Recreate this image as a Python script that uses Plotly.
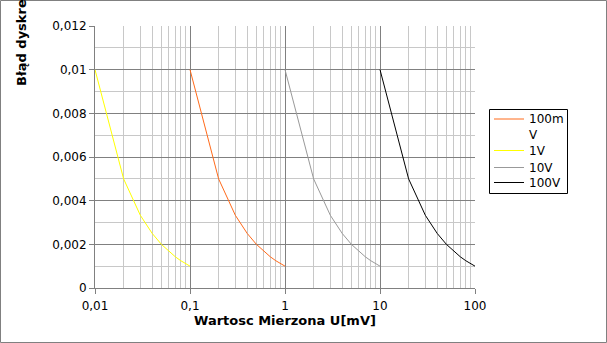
import plotly.graph_objects as go

# Data
y_err = [0.01, 0.005, 0.00333, 0.0025, 0.002, 0.00167, 0.00143, 0.00125, 0.00111, 0.001]
x_100mV = [0.1, 0.2, 0.3, 0.4, 0.5, 0.6, 0.7, 0.8, 0.9, 1.0]
x_1V = [0.01, 0.02, 0.03, 0.04, 0.05, 0.06, 0.07, 0.08, 0.09, 0.1]
x_10V = [1, 2, 3, 4, 5, 6, 7, 8, 9, 10]
x_100V = [10, 20, 30, 40, 50, 60, 70, 80, 90, 100]
series_names = ["100m<br>V", "1V", "10V", "100V"]
series_x = [x_100mV, x_1V, x_10V, x_100V]
series_colors = ["#ff6a1a", "#ffff00", "#999999", "#000000"]

x_tickvals = [0.01, 0.1, 1, 10, 100]
x_ticktext = ["0,01", "0,1", "1", "10", "100"]
x_minor = [m * d for d in [0.01, 0.1, 1, 10] for m in range(2, 10)]
y_tickvals = [0, 0.002, 0.004, 0.006, 0.008, 0.01, 0.012]
y_ticktext = ["0", "0,002", "0,004", "0,006", "0,008", "0,01", "0,012"]

W, H = 607, 343
L, R, T, B = 95, 132, 26, 55
PW, PH = W - L - R, H - T - B

def px(xp):
    return (xp - L) / PW

def py(yp):
    return (H - B - yp) / PH

fig = go.Figure()
for name, xs, col in zip(series_names, series_x, series_colors):
    fig.add_trace(go.Scatter(x=xs, y=y_err, mode="lines", name=name,
                             line=dict(color=col, width=1), showlegend=False))

font = dict(family="DejaVu Sans", size=12, color="black")

fig.update_layout(
    width=W, height=H,
    margin=dict(l=L, r=R, t=T, b=B, pad=0),
    paper_bgcolor="white", plot_bgcolor="white",
    font=font,
    showlegend=False,
    xaxis=dict(type="log", range=[-2, 2],
               tickvals=x_tickvals, ticktext=x_ticktext,
               showgrid=True, gridcolor="#808080", gridwidth=1,
               showline=True, linecolor="#808080", linewidth=1,
               ticks="outside", ticklen=5, tickcolor="#808080",
               ticklabelstandoff=2,
               minor=dict(tickvals=x_minor, showgrid=True, gridcolor="#c8c8c8", gridwidth=1, ticks=""),
               zeroline=False, mirror=False),
    yaxis=dict(range=[0, 0.012],
               tickvals=y_tickvals, ticktext=y_ticktext,
               showgrid=True, gridcolor="#808080", gridwidth=1,
               showline=True, linecolor="#808080", linewidth=1,
               ticks="outside", ticklen=5, tickcolor="#808080",
               minor=dict(dtick=0.001, showgrid=True, gridcolor="#c8c8c8", gridwidth=1, ticks=""),
               zeroline=False),
)

# Axis titles
fig.add_annotation(text="<b>Wartosc Mierzona U[mV]</b>",
                   xref="paper", yref="paper", x=px(285), y=py(320.5),
                   xanchor="center", yanchor="middle", showarrow=False,
                   font=dict(family="DejaVu Sans", size=13, color="black"))
fig.add_annotation(text="<b>Błąd dyskretyzacji</b>", textangle=-90,
                   xref="paper", yref="paper", x=px(22), y=py(88),
                   xanchor="center", yanchor="bottom", showarrow=False,
                   font=dict(family="DejaVu Sans", size=13, color="black"))

# Outer border
fig.add_shape(type="rect", xref="paper", yref="paper",
              x0=px(0.5), x1=px(606.5), y0=py(342.5), y1=py(0.5),
              line=dict(color="#808080", width=1), layer="below")

# Legend (drawn manually to match compact row spacing)
fig.add_shape(type="rect", xref="paper", yref="paper",
              x0=px(489.5), x1=px(567.5), y0=py(193.5), y1=py(109.5),
              line=dict(color="black", width=1), fillcolor="white", layer="above")
legend_rows = [119, 150.5, 167.5, 182.5]
for name, col, yrow in zip(series_names, series_colors, legend_rows):
    fig.add_shape(type="line", xref="paper", yref="paper",
                  x0=px(494), x1=px(524), y0=py(yrow), y1=py(yrow),
                  line=dict(color=col, width=1), layer="above")
    fig.add_annotation(text=name, xref="paper", yref="paper",
                       x=px(527), y=py(yrow - 8.5), xanchor="left", yanchor="top",
                       align="left", showarrow=False,
                       font=dict(family="DejaVu Sans", size=12, color="black"))

fig.write_html("out.html")
